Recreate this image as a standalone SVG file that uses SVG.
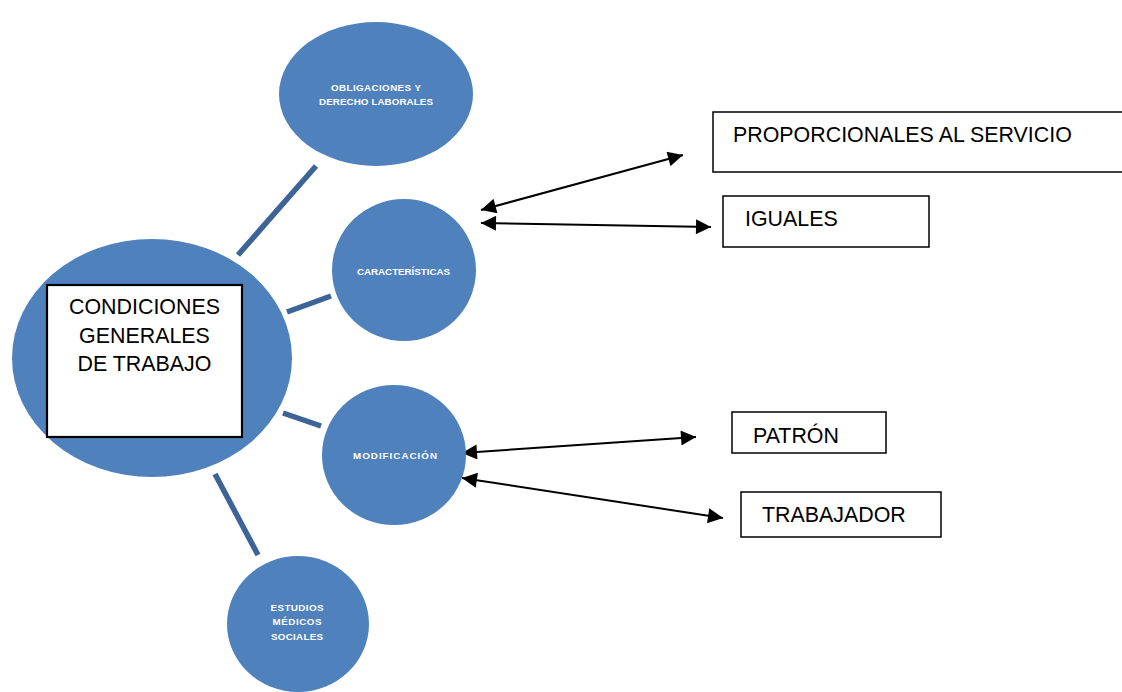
<svg xmlns="http://www.w3.org/2000/svg" width="1122" height="692" viewBox="0 0 1122 692">
<style>
.circ{fill:#4f81bd}
.link{stroke:#3c6496;stroke-width:5.5;stroke-linecap:butt;fill:none}
.arr{stroke:#000;stroke-width:2;fill:none;marker-start:url(#ah);marker-end:url(#ah)}
.box{fill:#fff;stroke:#000;stroke-width:1.5}
.big{font-family:"Liberation Sans",Arial,sans-serif;font-size:21.4px;fill:#000}
.small{font-family:"Liberation Sans",Arial,sans-serif;font-size:9.8px;font-weight:bold;fill:#fff;text-anchor:middle}
</style>
<defs>
<marker id="ah" viewBox="0 0 10 10" refX="10" refY="5" markerWidth="8" markerHeight="7.5" orient="auto-start-reverse" markerUnits="strokeWidth">
<path d="M0,0 L10,5 L0,10 z" fill="#000"/>
</marker>
</defs>
<g id="connectors">
<line class="link" x1="238" y1="255" x2="316" y2="166"/>
<line class="link" x1="287" y1="312" x2="331" y2="296"/>
<line class="link" x1="283" y1="413" x2="321" y2="426"/>
<line class="link" x1="215" y1="474" x2="258" y2="555"/>
<line class="arr" x1="481" y1="210" x2="683" y2="155"/>
<line class="arr" x1="481" y1="223" x2="711" y2="227"/>
<line class="arr" x1="462" y1="453" x2="696" y2="437"/>
<line class="arr" x1="462" y1="478" x2="723" y2="518"/>
</g>
<g id="node-condiciones">
<ellipse class="circ" cx="152" cy="358" rx="140" ry="119"/>
<rect class="box" x="47" y="285" width="195" height="152" style="stroke-width:2.2"/>
<text class="big" x="144.5" y="314" text-anchor="middle">CONDICIONES</text>
<text class="big" x="144.5" y="342.5" text-anchor="middle">GENERALES</text>
<text class="big" x="144.5" y="371" text-anchor="middle">DE TRABAJO</text>
</g>
<g id="node-obligaciones">
<ellipse class="circ" cx="376" cy="94" rx="97" ry="72"/>
<text class="small" x="376" y="90.5" textLength="90" lengthAdjust="spacing">OBLIGACIONES Y</text>
<text class="small" x="376" y="104.5" textLength="114" lengthAdjust="spacing">DERECHO LABORALES</text>
</g>
<g id="node-caracteristicas">
<ellipse class="circ" cx="404" cy="270" rx="72" ry="71"/>
<text class="small" x="403.5" y="274.5" textLength="93" lengthAdjust="spacing">CARACTERÍSTICAS</text>
</g>
<g id="node-modificacion">
<ellipse class="circ" cx="394" cy="455" rx="72" ry="70"/>
<text class="small" x="395" y="458.5" textLength="84" lengthAdjust="spacing">MODIFICACIÓN</text>
</g>
<g id="node-estudios">
<ellipse class="circ" cx="298" cy="624" rx="71" ry="68"/>
<text class="small" x="297" y="611" textLength="53" lengthAdjust="spacing">ESTUDIOS</text>
<text class="small" x="297" y="625" textLength="49" lengthAdjust="spacing">MÉDICOS</text>
<text class="small" x="297" y="640" textLength="52" lengthAdjust="spacing">SOCIALES</text>
</g>
<g id="node-proporcionales">
<rect class="box" x="713" y="112" width="420" height="60"/>
<text class="big" x="733" y="142">PROPORCIONALES AL SERVICIO</text>
</g>
<g id="node-iguales">
<rect class="box" x="723" y="196" width="206" height="51"/>
<text class="big" x="745" y="226">IGUALES</text>
</g>
<g id="node-patron">
<rect class="box" x="732" y="412" width="154" height="41"/>
<text class="big" x="753" y="443">PATRÓN</text>
</g>
<g id="node-trabajador">
<rect class="box" x="741" y="492" width="200" height="45"/>
<text class="big" x="762" y="522">TRABAJADOR</text>
</g>
</svg>
